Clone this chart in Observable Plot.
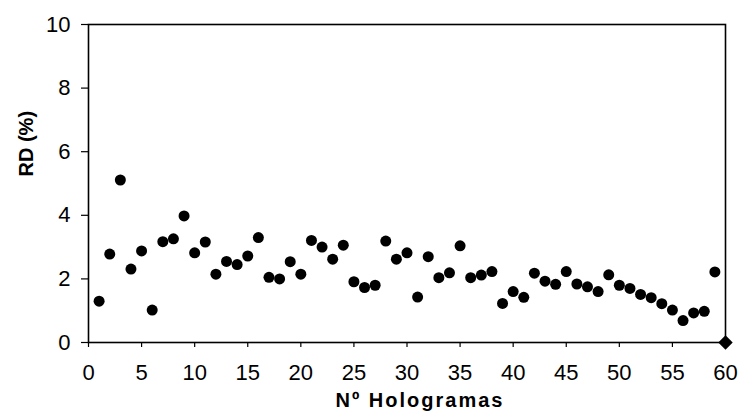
<!DOCTYPE html>
<html>
<head>
<meta charset="utf-8">
<script src="https://cdn.jsdelivr.net/npm/d3@7"></script>
<script src="https://cdn.jsdelivr.net/npm/@observablehq/plot@0.6"></script>
<style>
  html, body { margin: 0; padding: 0; background: #fff; }
  #chart { width: 740px; height: 416px; }
</style>
</head>
<body>
<div id="chart"></div>
<script>
const holograms = d3.range(1, 60);
const rdValues = [1.30, 2.78, 5.11, 2.31, 2.88, 1.02, 3.17, 3.26, 3.98, 2.82,
  3.16, 2.15, 2.55, 2.45, 2.72, 3.30, 2.05, 2.00, 2.54, 2.15,
  3.21, 3.00, 2.62, 3.06, 1.91, 1.73, 1.80, 3.19, 2.62, 2.82,
  1.43, 2.70, 2.04, 2.19, 3.04, 2.04, 2.12, 2.23, 1.23, 1.60,
  1.42, 2.18, 1.93, 1.83, 2.23, 1.84, 1.75, 1.60, 2.13, 1.80,
  1.70, 1.51, 1.41, 1.22, 1.02, 0.69, 0.93, 0.98, 2.22];
const extraX = [60];
const extraY = [0];
const xTicks = [0, 5, 10, 15, 20, 25, 30, 35, 40, 45, 50, 55, 60];
const yTicks = [0, 2, 4, 6, 8, 10];
const xTitle = "Nº Hologramas";
const yTitle = "RD (%)";

const points = holograms.map((h, i) => ({x: h, y: rdValues[i]}));
const extra = extraX.map((h, i) => ({x: h, y: extraY[i]}));

const chart = Plot.plot({
  width: 740,
  height: 416,
  marginLeft: 88,
  marginRight: 15,
  marginTop: 24,
  marginBottom: 74,
  style: {fontFamily: "Arial, 'Liberation Sans', sans-serif", fontSize: "22px", color: "black", background: "white"},
  x: {domain: [0, 60]},
  y: {domain: [0, 10]},
  marks: [
    Plot.axisX({ticks: xTicks, tickSize: 5, tickPadding: 17, label: null, stroke: "black", strokeWidth: 1.2, fontSize: 22}),
    Plot.axisY({ticks: yTicks, tickSize: 7, tickPadding: 11, label: null, stroke: "black", strokeWidth: 1.2, fontSize: 22}),
    Plot.frame({stroke: "black", strokeWidth: 1.6}),
    Plot.dot(points, {x: "x", y: "y", r: 5.5, fill: "black", stroke: "none"}),
    Plot.dot(extra, {x: "x", y: "y", r: 6.5, symbol: "diamond2", fill: "black", stroke: "none"}),
    Plot.text([xTitle], {text: d => d, frameAnchor: "bottom", dy: 64, dx: 13, fontWeight: "bold", fontSize: 20, fill: "black", className: "xtitle"}),
    Plot.text([yTitle], {text: d => d, frameAnchor: "left", dx: -62, dy: -7, rotate: -90, fontWeight: "bold", fontSize: 20, fill: "black"})
  ]
});
chart.querySelectorAll(".xtitle text").forEach(t => t.style.letterSpacing = "2px");
document.getElementById("chart").appendChild(chart);
</script>
</body>
</html>
